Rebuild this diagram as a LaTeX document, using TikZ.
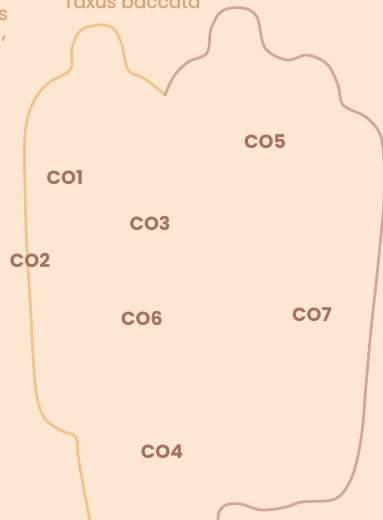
\documentclass[tikz,border=0pt]{standalone}
\usepackage{fontspec}
\setmainfont{Poppins}
\newfontfamily\titlefont{Poppins}[FakeBold=1.5]
\usepackage{xcolor}
\usetikzlibrary{positioning}

\definecolor{paper}{HTML}{FDE7D2}
\definecolor{zonetext}{HTML}{A47262}
\definecolor{leftedge}{HTML}{F0C48E}
\definecolor{rightedge}{HTML}{CFA99A}
\definecolor{titletext}{HTML}{DBA37A}

\tikzset{
    zone/.style={font=\fontsize{19}{22}\selectfont\bfseries, text=zonetext, inner sep=0pt},
    title/.style={font=\fontsize{18.5}{21}\selectfont\titlefont, text=titletext, inner sep=0pt},
    leftline/.style={draw=leftedge, line width=2.8pt, line join=round, line cap=round},
    rightline/.style={draw=rightedge, line width=2.8pt, line join=round, line cap=round}
}

\begin{document}
\begin{tikzpicture}[x=1pt,y=-1pt]
    % Fondo
    \fill[paper] (0,0) rectangle (383,520);
    \useasboundingbox (0,0) rectangle (383,520);

    % Contorno sinistro
    \draw[leftline] plot[smooth, tension=0.55] coordinates {
        (90,521) (84,490) (78,455) (76,437) (62,431) (46,420) (38,402)
        (34,370) (30,300) (27,250) (25,190) (25,135) (32,105) (47,84) (70,70)
        (72,48) (80,31) (97,25) (113,28) (122,45) (128,70) (145,79) (165,95)};

    % Contorno destro
    \draw[rightline] plot[smooth, tension=0.55] coordinates {
        (165,95) (174,76) (188,62) (207,53) (211,29) (222,11) (243,8)
        (257,17) (265,48) (287,60) (307,55) (327,64) (338,85) (343,105)
        (366,117) (380,134) (384,160) (384,200) (382,225) (377,275)
        (371,330) (366,385) (362,432) (355,468) (345,490) (332,500)
        (302,502) (286,507) (262,510) (240,504) (226,505) (219,512) (218,521)};

    % Testi
    \node[title, anchor=base] (taxus) at (132,8) {Taxus baccata};
    \node[title, anchor=base east] (frag1) at (8,20) {s};
    \node[title, anchor=base east] (frag2) at (6,38) {,};

    % Zone
    \node[zone] (co1) at (65,178) {CO1};
    \node[zone] (co2) at (30,260) {CO2};
    \node[zone] (co3) at (150,223) {CO3};
    \node[zone] (co4) at (162,452) {CO4};
    \node[zone] (co5) at (265,142) {CO5};
    \node[zone] (co6) at (142,318) {CO6};
    \node[zone] (co7) at (312,315) {CO7};
\end{tikzpicture}
\end{document}
